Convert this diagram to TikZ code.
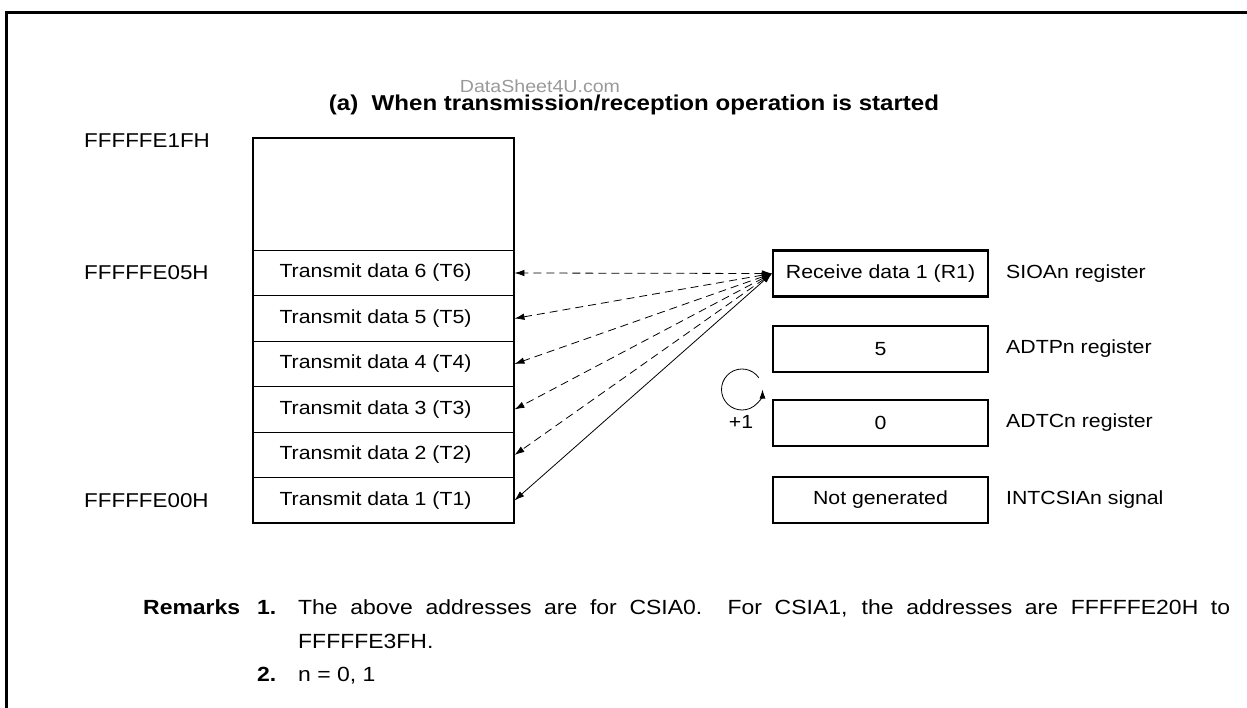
\documentclass[tikz,border=0pt]{standalone}
\usepackage{fontspec}
\setmainfont{Liberation Sans}[FakeStretch=1.12]
\usetikzlibrary{arrows.meta}
\newcommand{\fsz}[1]{\fontsize{#1}{#1}\selectfont}
\begin{document}
\begin{tikzpicture}[x=1pt,y=-1pt,
  lbl/.style={inner sep=0pt, font=\fsz{19}},
  addr/.style={inner sep=0pt, anchor=west, font=\fsz{20}},
  cell/.style={draw, line width=0.9pt, minimum width=261pt, minimum height=45.5pt, inner sep=0pt, font=\fsz{19}},
  reg/.style={draw, line width=2.2pt, minimum width=215pt, minimum height=46pt, inner sep=0pt, font=\fsz{19}},
  link/.style={{Latex[length=10pt,width=6.5pt]}-{Latex[length=10pt,width=6.5pt]}, line width=0.8pt},
  dlink/.style={link, dash pattern=on 8pt off 5pt},
  rem/.style={anchor=base west, inner sep=0pt, font=\fsz{20.5}},
  remb/.style={rem, font=\bfseries\fsz{20.5}}]
\useasboundingbox (0,0) rectangle (1247,708);
\draw[line width=3pt] (6.2,708) -- (6.2,12.5) -- (1247,12.5);
% title
\node[inner sep=0pt, text=black!40, font=\fsz{17.5}] (wm) at (540,86) {DataSheet4U.com};
\node[inner sep=0pt, font=\bfseries\fsz{21.5}] (title) at (634,105) {(a)\ \ When transmission/reception operation is started};
% memory
\node[cell] (t6) at (383.5,273) {Transmit data 6 (T6)\hspace*{16pt}};
\node[cell] (t5) at (383.5,318.5) {Transmit data 5 (T5)\hspace*{16pt}};
\node[cell] (t4) at (383.5,364) {Transmit data 4 (T4)\hspace*{16pt}};
\node[cell] (t3) at (383.5,409.5) {Transmit data 3 (T3)\hspace*{16pt}};
\node[cell] (t2) at (383.5,455) {Transmit data 2 (T2)\hspace*{16pt}};
\node[cell] (t1) at (383.5,500.5) {Transmit data 1 (T1)\hspace*{16pt}};
\node[draw, line width=2.2pt, minimum width=261pt, minimum height=385pt, inner sep=0pt] (mem) at (383.5,330.5) {};
\node[addr] (a1f) at (84,141) {FFFFFE1FH};
\node[addr] (a05) at (84,273) {FFFFFE05H};
\node[addr] (a00) at (84,500.5) {FFFFFE00H};
% registers
\node[reg] (r1) at (880.5,273.5) {Receive data 1 (R1)};
\node[reg] (adtp) at (880.5,349) {5};
\node[reg] (adtc) at (880.5,423) {0};
\node[reg] (intc) at (880.5,500) {Not generated};
\node[lbl, anchor=west] (l1) at (1006,273.5) {SIOAn register};
\node[lbl, anchor=west] (l2) at (1006,349) {ADTPn register};
\node[lbl, anchor=west] (l3) at (1006,423) {ADTCn register};
\node[lbl, anchor=west] (l4) at (1006,500) {INTCSIAn signal};
% connectors
\foreach \t in {t6,t5,t4,t3,t2} \draw[dlink] (r1.west) -- (\t.east);
\draw[link] (r1.west) -- (t1.east);
% increment
\coordinate (cc) at (742,389.5);
\draw[line width=0.8pt, -{Latex[length=9pt,width=6pt]}] (cc) ++(-35:20.5) arc[start angle=-35, end angle=-360, radius=20.5];
\node[lbl] (plus) at (741,422) {+1};
% remarks
\node[remb] (rk) at (143,614) {Remarks};
\node[remb] (n1) at (257,614) {1.};
\node[rem] (rm1) at (298,614) {\makebox[932pt][s]{The above addresses are for CSIA0.\ \ For CSIA1, the addresses are FFFFFE20H to}};
\node[rem] (rm1b) at (298,648) {FFFFFE3FH.};
\node[remb] (n2) at (257,681) {2.};
\node[rem] (rm2) at (298,681) {n = 0, 1};
\end{tikzpicture}
\end{document}
